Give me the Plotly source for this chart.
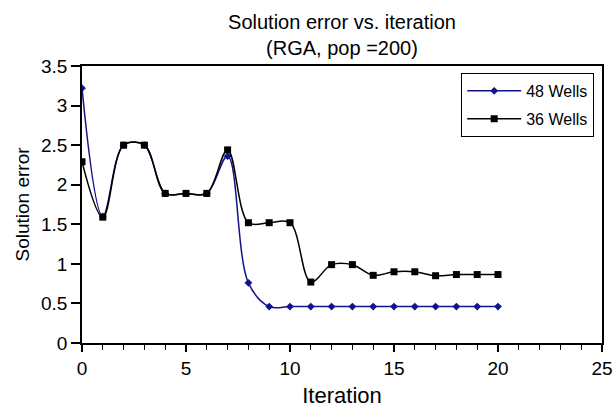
import plotly.graph_objects as go

iterations = list(range(0, 21))
wells48 = [3.22, 1.60, 2.50, 2.50, 1.89, 1.89, 1.89, 2.36, 0.76, 0.46, 0.46,
           0.46, 0.46, 0.46, 0.46, 0.46, 0.46, 0.46, 0.46, 0.46, 0.46]
wells36 = [2.29, 1.59, 2.50, 2.50, 1.89, 1.89, 1.89, 2.44, 1.52, 1.52, 1.52,
           0.77, 0.99, 0.99, 0.855, 0.90, 0.90, 0.85, 0.865, 0.865, 0.865]

font = "Liberation Sans, Arial, Helvetica, sans-serif"
blue = "#12128a"

fig = go.Figure()
fig.add_trace(go.Scatter(
    x=iterations, y=wells48, name="48 Wells", mode="lines+markers",
    legendgroup="a",
    line=dict(color=blue, width=1.5, shape="spline", smoothing=1),
    marker=dict(symbol="diamond", size=6, color=blue),
))
fig.add_trace(go.Scatter(
    x=iterations, y=wells36, name="36 Wells", mode="lines+markers",
    legendgroup="b",
    line=dict(color="black", width=1.5, shape="spline", smoothing=1),
    marker=dict(symbol="square", size=7, color="black"),
))

fig.update_layout(
    width=614, height=408,
    paper_bgcolor="white", plot_bgcolor="white",
    margin=dict(l=82, r=12, t=66, b=65, autoexpand=False),
    font=dict(family=font, size=18, color="black"),
    title=dict(text="Solution error vs. iteration<br>(RGA, pop =200)",
               x=0.557, xanchor="center", xref="container",
               y=0.93, yanchor="top", yref="container",
               automargin=False,
               font=dict(size=20)),
    showlegend=True,
    legend=dict(x=0.985, xanchor="right", y=0.975, yanchor="top",
                bordercolor="black", borderwidth=1, bgcolor="white",
                traceorder="grouped", tracegroupgap=4,
                itemwidth=54,
                font=dict(size=16)),
    xaxis=dict(range=[0, 25], dtick=5, tick0=0, showgrid=False, zeroline=False,
               automargin=False,
               showline=True, linecolor="black", linewidth=1.5, mirror=True,
               ticks="outside", ticklen=7, tickcolor="black", tickwidth=1.5,
               minor=dict(dtick=1, ticks="outside", ticklen=5, tickcolor="black", tickwidth=1),
               title=dict(text="Iteration", standoff=10, font=dict(size=22)),
               tickfont=dict(size=19)),
    yaxis=dict(range=[0, 3.5], dtick=0.5, tick0=0, showgrid=False, zeroline=False,
               automargin=False,
               showline=True, linecolor="black", linewidth=1.5, mirror=True,
               ticks="outside", ticklen=9, tickcolor="black", tickwidth=1.5,
               title=dict(text="Solution error", standoff=6, font=dict(size=19)),
               tickfont=dict(size=19)),
)

fig.write_html("out.html", config={"displayModeBar": False},
               post_script="document.body.style.margin='0';")
